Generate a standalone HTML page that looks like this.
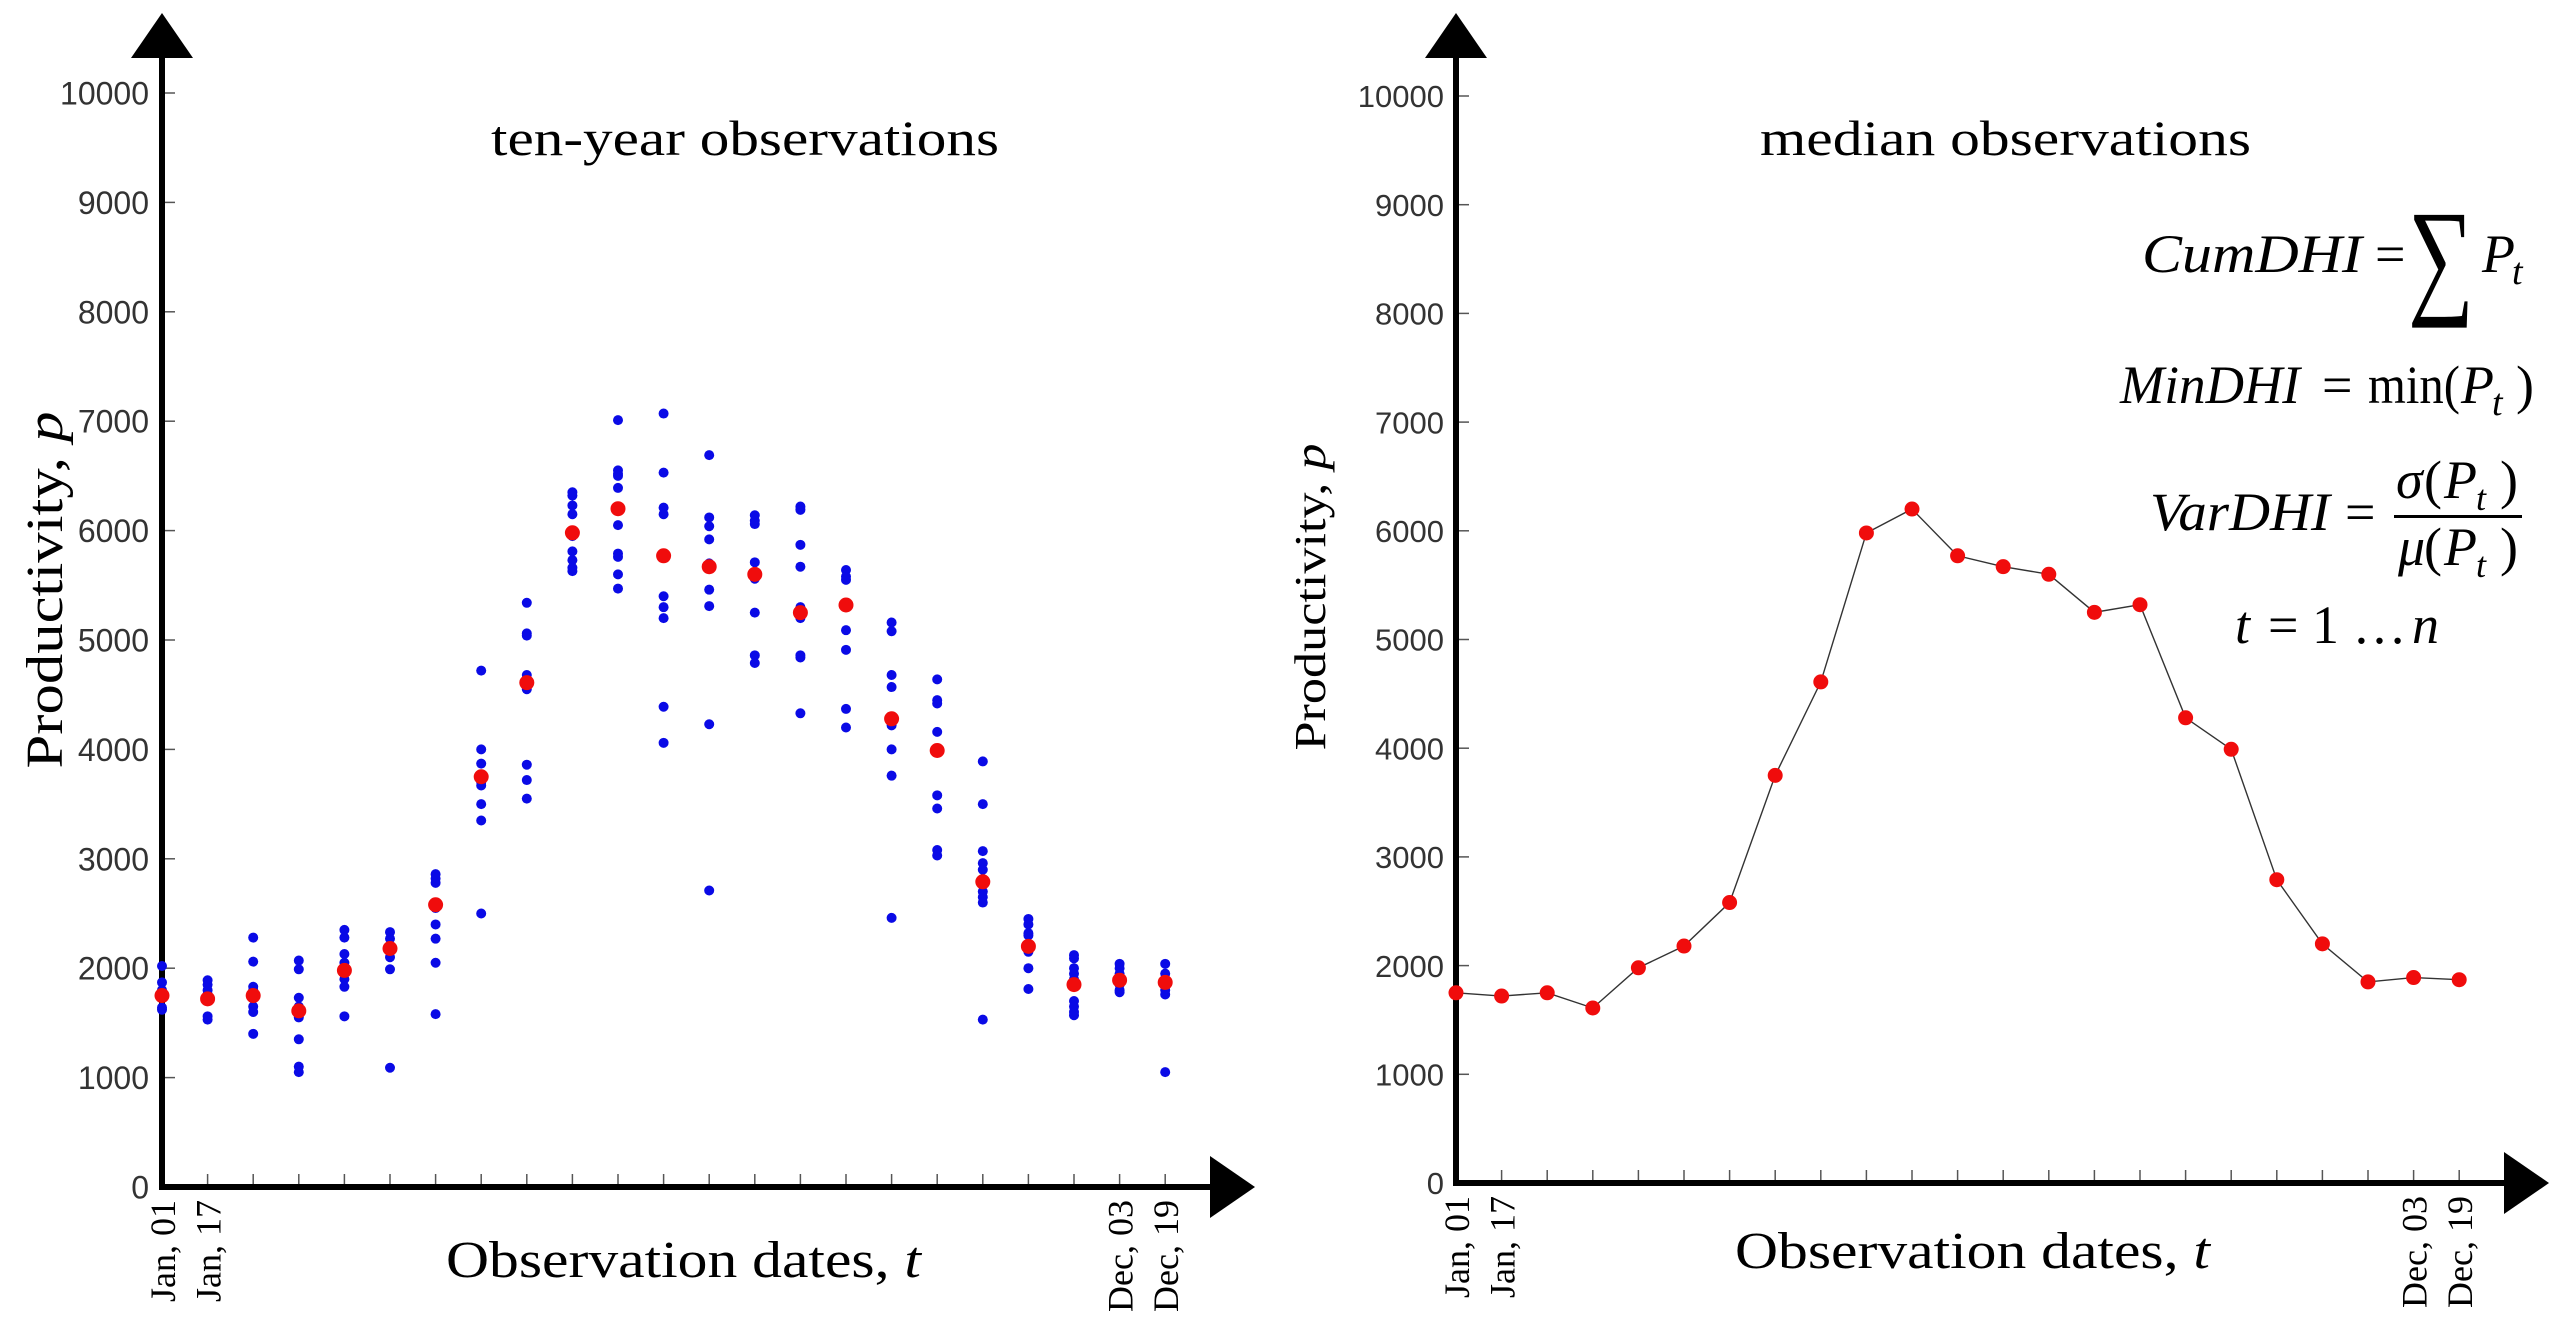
<!DOCTYPE html>
<html><head><meta charset="utf-8">
<style>
html,body{margin:0;padding:0;background:#fff;}
svg{display:block;}
.num{font-family:"Liberation Sans",Arial,sans-serif;fill:#333;}
.ser{font-family:"Liberation Serif","DejaVu Serif",serif;fill:#000;}
.it{font-family:"Liberation Serif","DejaVu Serif",serif;font-style:italic;fill:#000;}
</style></head>
<body>
<svg id="s" width="2560" height="1317" viewBox="0 0 2560 1317" xmlns="http://www.w3.org/2000/svg">
<rect width="2560" height="1317" fill="#fff"/>
<g id="g"></g>
<text class="ser" x="491" y="155" font-size="50" textLength="508" lengthAdjust="spacingAndGlyphs">ten-year observations</text>
<text class="ser" x="1760" y="155" font-size="50" textLength="491" lengthAdjust="spacingAndGlyphs">median observations</text>
<text class="ser" x="446" y="1277" font-size="52" textLength="475" lengthAdjust="spacingAndGlyphs">Observation dates, <tspan font-style="italic">t</tspan></text>
<text class="ser" x="1735" y="1268" font-size="52" textLength="475" lengthAdjust="spacingAndGlyphs">Observation dates, <tspan font-style="italic">t</tspan></text>
<text class="ser" transform="translate(62,590) rotate(-90)" text-anchor="middle" font-size="52" textLength="357" lengthAdjust="spacingAndGlyphs">Productivity, <tspan font-style="italic">p</tspan></text>
<text class="ser" transform="translate(1325,597) rotate(-90)" text-anchor="middle" font-size="44" textLength="307" lengthAdjust="spacingAndGlyphs">Productivity, <tspan font-style="italic">p</tspan></text>

<text class="it" x="2142" y="272" font-size="54" textLength="220" lengthAdjust="spacingAndGlyphs">CumDHI</text>
<text class="ser" x="2375" y="272" font-size="54">=</text>
<text class="ser" x="2408" y="300" font-size="130" textLength="66" lengthAdjust="spacingAndGlyphs">∑</text>
<text class="it" x="2482" y="272" font-size="54">P</text>
<text class="it" x="2512" y="284" font-size="38">t</text>

<text class="it" x="2120" y="403" font-size="54" textLength="180" lengthAdjust="spacingAndGlyphs">MinDHI</text>
<text class="ser" x="2322" y="403" font-size="54">=</text>
<text class="ser" x="2368" y="403" font-size="54" textLength="92" lengthAdjust="spacingAndGlyphs">min(</text>
<text class="it" x="2461" y="403" font-size="54">P</text>
<text class="it" x="2492" y="415" font-size="38">t</text>
<text class="ser" x="2516" y="403" font-size="54">)</text>

<text class="it" x="2150" y="530" font-size="54" textLength="180" lengthAdjust="spacingAndGlyphs">VarDHI</text>
<text class="ser" x="2345" y="530" font-size="54">=</text>
<text class="it" x="2396" y="498" font-size="54">σ</text>
<text class="ser" x="2424" y="498" font-size="54">(</text>
<text class="it" x="2444" y="498" font-size="54">P</text>
<text class="it" x="2476" y="510" font-size="36">t</text>
<text class="ser" x="2500" y="498" font-size="54">)</text>
<rect x="2394" y="515" width="128" height="3" fill="#000"/>
<text class="it" x="2398" y="565" font-size="54">μ</text>
<text class="ser" x="2424" y="565" font-size="54">(</text>
<text class="it" x="2444" y="565" font-size="54">P</text>
<text class="it" x="2476" y="577" font-size="36">t</text>
<text class="ser" x="2500" y="565" font-size="54">)</text>

<text class="it" x="2235" y="643" font-size="54">t</text>
<text class="ser" x="2268" y="643" font-size="54">= 1 …</text>
<text class="it" x="2412" y="643" font-size="54">n</text>
</svg>
<script>
var NS="http://www.w3.org/2000/svg",g=document.getElementById("g");
function el(t,a,txt){var e=document.createElementNS(NS,t);for(var k in a)e.setAttribute(k,a[k]);if(txt!=null)e.textContent=txt;g.appendChild(e);return e;}
var blue=[
[2020,1870,1800,1760,1640,1620],
[1890,1850,1800,1760,1560,1530],
[2280,2060,1830,1800,1650,1600,1400],
[2070,1990,1730,1650,1550,1350,1100,1050],
[2350,2280,2130,2050,1950,1900,1830,1560],
[2330,2270,2180,2100,1990,1090],
[2860,2820,2780,2600,2550,2400,2270,2050,1580],
[4720,4000,3870,3700,3670,3500,3350,2500],
[5340,5060,5040,4680,4550,3860,3720,3550],
[6350,6320,6230,6150,6000,5950,5810,5730,5660,5630],
[7010,6550,6520,6500,6390,6050,5790,5760,5600,5470],
[7070,6530,6210,6150,5770,5400,5300,5200,4390,4060],
[6690,6120,6040,5920,5700,5650,5460,5310,4230,2710],
[6140,6090,6060,5710,5600,5560,5250,4860,4790],
[6220,6190,5870,5670,5300,5200,4860,4840,4330],
[5640,5580,5550,5090,4910,4370,4200],
[5160,5080,4680,4570,4220,4000,3760,2460],
[4640,4450,4420,4160,3990,3580,3460,3080,3030],
[3890,3500,3070,2960,2900,2700,2650,2600,1530],
[2450,2400,2320,2300,2200,2150,2000,1810],
[2120,2090,2000,1950,1900,1700,1650,1600,1570],
[2040,2000,1950,1850,1800,1780],
[2040,1950,1900,1800,1760,1050]];
var med=[1750,1720,1750,1610,1980,2180,2580,3750,4610,5980,6200,5770,5670,5600,5250,5320,4280,3990,2790,2200,1850,1890,1870];
var labs={0:"Jan, 01",1:"Jan, 17",21:"Dec, 03",22:"Dec, 19"};
function panel(ax,ay,sc,lblRight,fs,left){
  var X=function(i){return ax+45.6*i},Y=function(v){return ay-v*sc};
  for(var k=0;k<=10;k++){var yy=Y(k*1000);
    if(k>0)el("line",{x1:ax,x2:ax+13,y1:yy,y2:yy,stroke:"#555","stroke-width":1.5});
    el("text",{"class":"num",x:lblRight,y:yy+fs*0.36,"font-size":fs,"text-anchor":"end"},String(k*1000));}
  for(var i=0;i<23;i++){
    if(i>0)el("line",{x1:X(i),x2:X(i),y1:ay,y2:ay-13,stroke:"#555","stroke-width":1.5});
    if(labs[i])el("text",{"class":"ser",transform:"translate("+(X(i)+13)+","+(ay+13)+") rotate(-90)","text-anchor":"end","font-size":36},labs[i]);}
  el("line",{x1:ax,x2:ax,y1:56,y2:ay+3,stroke:"#000","stroke-width":6});
  el("line",{x1:ax-3,x2:ax+1050,y1:ay,y2:ay,stroke:"#000","stroke-width":6});
  el("polygon",{points:(ax-31)+",58 "+ax+",13 "+(ax+31)+",58",fill:"#000"});
  el("polygon",{points:(ax+1048)+","+(ay-31)+" "+(ax+1093)+","+ay+" "+(ax+1048)+","+(ay+31),fill:"#000"});
  if(left){
    for(var i=0;i<23;i++)blue[i].forEach(function(v){el("circle",{cx:X(i),cy:Y(v),r:5,fill:"#0a0ae6"});});
    med.forEach(function(v,i){el("circle",{cx:X(i),cy:Y(v),r:7.5,fill:"#f00c0c"});});
  }else{
    el("polyline",{points:med.map(function(v,i){return X(i)+","+Y(v)}).join(" "),fill:"none",stroke:"#333","stroke-width":1.4});
    med.forEach(function(v,i){el("circle",{cx:X(i),cy:Y(v),r:7.5,fill:"#f00c0c"});});
  }
}
panel(162,1187,0.1094,149,32,true);
panel(1456,1183,0.1087,1444,31,false);
</script>
</body></html>
